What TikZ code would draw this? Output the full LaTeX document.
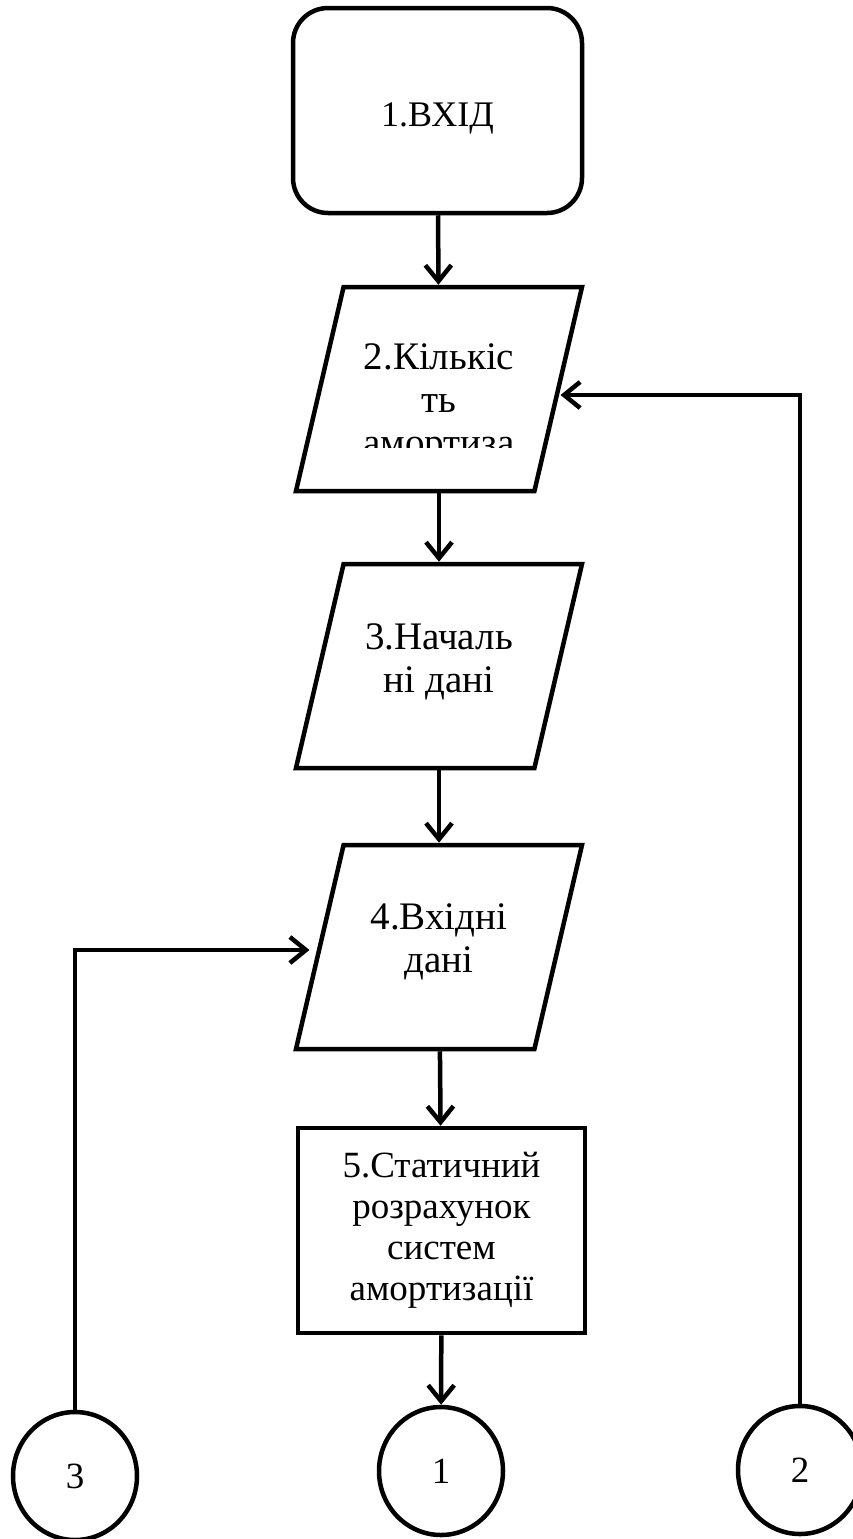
\documentclass[tikz,border=0pt]{standalone}
\usepackage{fontspec}
\setmainfont{Liberation Serif}
\usetikzlibrary{shapes.geometric,arrows.meta}
\begin{document}
\begin{tikzpicture}[x=1pt,y=-1pt]
        \tikzstyle{every node}=[draw=black, line width=4.5pt, font=\fontsize{37}{43}\selectfont, text=black]
        \tikzstyle{edge}=[line width=4.5pt, -{Straight Barb[length=16pt,width=26pt]}]
        \tikzstyle{io}=[trapezium, trapezium left angle=76, trapezium right angle=104, trapezium stretches=true, minimum width=286pt, minimum height=204pt, inner sep=2pt]
        \tikzstyle{txt}=[draw=none, anchor=north, align=center, inner sep=0pt, font=\fontsize{39}{43}\selectfont]
        \tikzstyle{conn}=[ellipse, minimum width=124pt, minimum height=128pt, inner sep=0pt]

        \useasboundingbox (0,0) rectangle (853,1539);

        \node[rounded corners=35pt, minimum width=289pt, minimum height=205pt, font=\fontsize{36}{43}\selectfont, text height=31pt, text depth=0pt] (b1) at (437.5,110.5) {1.ВХІД};
        \node[io] (b2) at (439,389) {};
        \node[io] (b3) at (439,666) {};
        \node[io] (b4) at (439,947) {};
        \node[minimum width=287pt, minimum height=205pt, align=center, font=\fontsize{37}{41}\selectfont] (b5) at (441.5,1230.5) {5.Статичний\\розрахунок\\систем\\амортизації};

        \begin{scope}
          \clip (296,287) rectangle (582,447);
          \node[txt] (b2t) at (439,341) {2.Кількіс\\ть\\амортиза};
        \end{scope}
        \node[txt] (b3t) at (439,621) {3.Началь\\ні дані};
        \node[txt] (b4t) at (439,901) {4.Вхідні\\дані};

        \node[conn] (c3) at (75,1476) {3};
        \node[conn] (c1) at (441,1471) {1};
        \node[conn] (c2) at (800,1470) {2};

        \draw[edge] (b1) -- (b2);
        \draw[edge] (b2) -- (b3);
        \draw[edge] (b3) -- (b4);
        \draw[edge] (b4) -- (b5);
        \draw[edge] (b5) -- (c1);
        \draw[edge] (c2.north) |- ([yshift=-6pt]b2.east);
        \draw[edge, shorten >=8pt] (c3.north) |- ([yshift=-3pt]b4.west);
    \end{tikzpicture}
\end{document}
